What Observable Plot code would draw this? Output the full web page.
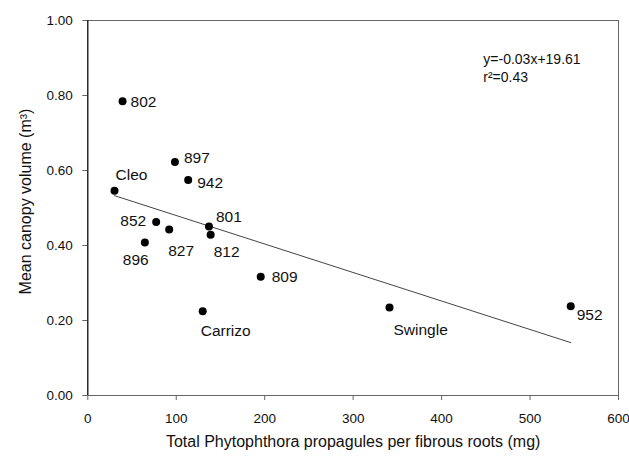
<!DOCTYPE html>
<html>
<head>
<meta charset="utf-8">
<script src="https://cdn.jsdelivr.net/npm/d3@7"></script>
<script src="https://cdn.jsdelivr.net/npm/@observablehq/plot@0.6"></script>
<style>
  html, body { margin: 0; padding: 0; background: #fff; }
  #chart svg { display: block; }
</style>
</head>
<body>
<div id="chart"></div>
<script>
// Data
const names = ["802", "897", "942", "Cleo", "852", "827", "801", "812", "896", "809", "Carrizo", "Swingle", "952"];
const propagules = [39.3, 98.5, 113.5, 30.2, 77.3, 92.0, 137.0, 138.9, 64.5, 195.5, 129.9, 341.1, 546.0];
const canopy = [0.785, 0.623, 0.575, 0.546, 0.463, 0.443, 0.451, 0.429, 0.408, 0.317, 0.225, 0.235, 0.238];

// Regression line end points (as drawn)
const trendX = [30.2, 546.0];
const trendY = [0.533, 0.141];

const xTicks = [0, 100, 200, 300, 400, 500, 600];
const yTicks = [0, 0.2, 0.4, 0.6, 0.8, 1.0];

const equationText = "y=-0.03x+19.61\nr²=0.43";
const xTitle = "Total Phytophthora propagules per fibrous roots (mg)";
const yTitle = "Mean canopy volume (m³)";

// Label placement styles (pixel offsets from each dot)
const labelStyle = {
  "802": {anchor: "start", dx: 8, dy: 1},
  "897": {anchor: "start", dx: 9, dy: -4},
  "942": {anchor: "start", dx: 9, dy: 3},
  "Cleo": {anchor: "start", dx: 1, dy: -16},
  "852": {anchor: "end", dx: -10, dy: -1},
  "827": {anchor: "start", dx: -1, dy: 22},
  "801": {anchor: "start", dx: 7, dy: -9},
  "812": {anchor: "start", dx: 3, dy: 17},
  "896": {anchor: "start", dx: -22, dy: 18},
  "809": {anchor: "start", dx: 11, dy: 0},
  "Carrizo": {anchor: "start", dx: -2, dy: 20},
  "Swingle": {anchor: "start", dx: 4, dy: 23},
  "952": {anchor: "start", dx: 6, dy: 9}
};

const points = names.map((n, i) => ({name: n, x: propagules[i], y: canopy[i]}));
const trend = trendX.map((x, i) => ({x, y: trendY[i]}));

const font = "'Liberation Sans', Arial, Helvetica, sans-serif";

const labelMarks = points.map(p => {
  const s = labelStyle[p.name];
  return Plot.text([p], {
    x: "x", y: "y", text: "name",
    textAnchor: s.anchor, dx: s.dx, dy: s.dy,
    fontSize: 15.5, fill: "#111"
  });
});

const chart = Plot.plot({
  width: 629,
  height: 456,
  marginLeft: 87.3,
  marginRight: 11,
  marginTop: 20,
  marginBottom: 61,
  style: {fontFamily: font, background: "#fff", color: "#111"},
  x: {domain: [0, 600]},
  y: {domain: [0, 1]},
  marks: [
    Plot.frame({stroke: "#666", strokeWidth: 1}),
    Plot.axisX({
      ticks: xTicks, tickSize: 5, tickPadding: 13, label: null,
      fontSize: 13.5, stroke: "#666", fill: "#111", tickFormat: d3.format("d")
    }),
    Plot.axisY({
      ticks: yTicks, tickSize: 5, tickPadding: 10, label: null,
      fontSize: 13.5, stroke: "#666", fill: "#111", tickFormat: d3.format(".2f")
    }),
    Plot.ruleX([0], {stroke: "#000", strokeWidth: 1}),
    Plot.line(trend, {x: "x", y: "y", stroke: "#444", strokeWidth: 1}),
    Plot.dot(points, {x: "x", y: "y", r: 4, fill: "#000", stroke: "none"}),
    ...labelMarks,
    Plot.text([equationText], {
      frameAnchor: "top-left", text: d => d, textAnchor: "start",
      lineAnchor: "top", lineHeight: 1.32,
      dx: 395.5, dy: 30, fontSize: 14, fill: "#111"
    }),
    Plot.text([xTitle], {
      frameAnchor: "bottom", text: d => d, textAnchor: "middle", dy: 51,
      fontSize: 16, fill: "#111", ariaLabel: "x-title"
    }),
    Plot.text([yTitle], {
      frameAnchor: "left", text: d => d, textAnchor: "middle", rotate: -90,
      dx: -62, dy: -6.5, fontSize: 16, fill: "#111", ariaLabel: "y-title"
    })
  ]
});

d3.select(chart).select('g[aria-label="x-title"]').attr("letter-spacing", "0.6px");
d3.select(chart).select('g[aria-label="y-title"]').attr("letter-spacing", "0.9px");

document.getElementById("chart").appendChild(chart);
</script>
</body>
</html>
